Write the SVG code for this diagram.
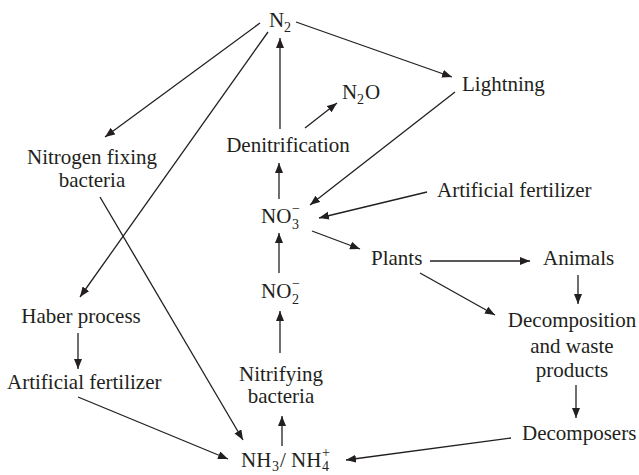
<svg xmlns="http://www.w3.org/2000/svg" width="639" height="475" viewBox="0 0 639 475">
  <style>
    text { font-family: "Liberation Serif", "Times New Roman", serif; font-size: 21px; fill: #231f20; }
    .s { font-size: 14px; }
    .m { text-anchor: middle; }
    .c line { stroke: #231f20; stroke-width: 1.3; marker-end: url(#ah); }
  </style>
  <defs>
    <marker id="ah" markerUnits="userSpaceOnUse" markerWidth="11" markerHeight="9" refX="10" refY="4" orient="auto">
      <path d="M0,0 L10,4 L0,8 Z" fill="#231f20"/>
    </marker>
  </defs>
  <rect width="639" height="475" fill="#ffffff"/>

  <!-- arrows between the nodes of the cycle -->
  <g class="c" id="connectors">
    <line x1="260" y1="23" x2="105" y2="137"/>
    <line x1="268" y1="32" x2="80" y2="297"/>
    <line x1="296" y1="22" x2="452" y2="77"/>
    <line x1="280" y1="129" x2="280" y2="38"/>
    <line x1="305" y1="128" x2="337" y2="103"/>
    <line x1="455" y1="92" x2="310" y2="205"/>
    <line x1="427" y1="192" x2="319" y2="218"/>
    <line x1="279" y1="199" x2="279" y2="163"/>
    <line x1="312" y1="231" x2="360" y2="249"/>
    <line x1="430" y1="261" x2="530" y2="261"/>
    <line x1="420" y1="273" x2="495" y2="315"/>
    <line x1="578" y1="275" x2="578" y2="304"/>
    <line x1="279" y1="273" x2="279" y2="233"/>
    <line x1="280" y1="353" x2="280" y2="311"/>
    <line x1="78" y1="333" x2="78" y2="369"/>
    <line x1="100" y1="197" x2="243" y2="440"/>
    <line x1="78" y1="397" x2="228" y2="459"/>
    <line x1="282" y1="446" x2="282" y2="416"/>
    <line x1="576" y1="385" x2="576" y2="418"/>
    <line x1="511" y1="438" x2="346" y2="460"/>
  </g>

  <g id="n2">
    <text x="269" y="27">N</text><text class="s" x="284" y="32">2</text>
  </g>
  <g id="n2o">
    <text x="342" y="99">N</text><text class="s" x="357" y="104">2</text><text x="365" y="99">O</text>
  </g>
  <g id="lightning">
    <text x="462" y="91">Lightning</text>
  </g>
  <g id="nitrogen-fixing-bacteria">
    <text class="m" x="92" y="164">Nitrogen fixing</text>
    <text class="m" x="92" y="187">bacteria</text>
  </g>
  <g id="denitrification">
    <text class="m" x="288" y="152">Denitrification</text>
  </g>
  <g id="artificial-fertilizer-right">
    <text x="437" y="197">Artificial fertilizer</text>
  </g>
  <g id="no3">
    <text x="261" y="223">NO</text><text class="s" x="292" y="229">3</text><text class="s" x="292" y="213">−</text>
  </g>
  <g id="plants">
    <text x="371" y="265">Plants</text>
  </g>
  <g id="animals">
    <text x="543" y="265">Animals</text>
  </g>
  <g id="no2">
    <text x="261" y="298">NO</text><text class="s" x="292" y="304">2</text><text class="s" x="292" y="288">−</text>
  </g>
  <g id="haber-process">
    <text class="m" x="81" y="323">Haber process</text>
  </g>
  <g id="decomposition">
    <text class="m" x="572" y="327">Decomposition</text>
    <text class="m" x="572" y="353">and waste</text>
    <text class="m" x="572" y="377">products</text>
  </g>
  <g id="artificial-fertilizer-left">
    <text x="7" y="389">Artificial fertilizer</text>
  </g>
  <g id="nitrifying-bacteria">
    <text class="m" x="281" y="381">Nitrifying</text>
    <text class="m" x="281" y="403">bacteria</text>
  </g>
  <g id="decomposers">
    <text x="522" y="440">Decomposers</text>
  </g>
  <g id="nh3-nh4">
    <text x="241" y="467">NH</text><text class="s" x="272" y="471">3</text><text x="280" y="467">/ NH</text><text class="s" x="322" y="471">4</text><text class="s" x="322" y="457">+</text>
  </g>
</svg>
